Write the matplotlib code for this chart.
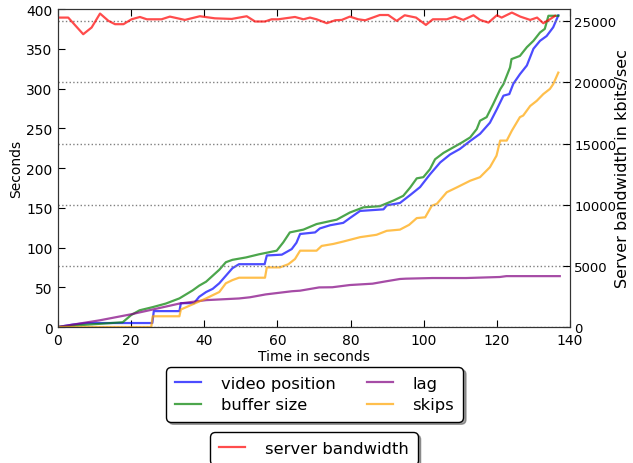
import matplotlib
matplotlib.use("Agg")
import matplotlib.pyplot as plt

# playback metrics (seconds) sampled over the session
video_t = [0, 4, 8, 25.8, 26.2, 33.2, 33.6, 37.2, 38.6, 40.5, 42.3, 44.1, 46, 47.7, 49.5,
           56.5, 57.1, 61.2, 63.9, 65.2, 66.2, 70.3, 71.6, 74.4, 78, 79.8, 82.6, 89, 89.9,
           93.5, 96.3, 99, 101.7, 104.5, 107.2, 109.9, 112.7, 115.4, 118.1, 120, 121.8,
           123.4, 124.5, 126.3, 128.2, 130, 131.8, 133.6, 135.4, 136.8]
video_pos = [0, 3, 5, 5, 20, 20, 30, 30, 38, 44, 48, 55, 65, 74, 79,
             79, 90, 91, 98, 106, 117, 119, 124, 128, 131, 137, 146, 148, 153,
             156, 166, 176, 192, 207, 217, 224, 234, 243, 257, 274, 291,
             293, 306, 318, 329, 350, 360, 366, 377, 392]

buffer_t = [0, 5, 11.4, 17.7, 20, 22.3, 25.9, 29.5, 33.2, 35, 36.8, 38.6, 40.5, 42.3, 44.1,
            45.9, 47.7, 51.4, 55, 59.8, 61.6, 63.4, 67.1, 70.7, 76.2, 79.8, 83.5, 88, 91.7,
            94.4, 96.3, 98.1, 99.9, 101.7, 103.1, 105.4, 108.1, 110.4, 112.7, 114.5, 115.4,
            117.2, 119, 120.9, 121.8, 123.6, 124, 126.3, 128.2, 130, 131.8, 133.1, 134.1, 136.8]
buffer_size = [0, 2, 4, 6, 15, 21, 25, 29.5, 36, 41, 46, 52, 57, 64.5, 72,
               81.5, 84.5, 87.5, 91.5, 96, 106.5, 119, 122.5, 129.5, 135, 144, 150.5, 152, 159,
               165, 175.5, 187, 188.5, 198.5, 211, 219, 226, 232, 238.5, 249, 259.5,
               264, 280.5, 299, 305.5, 326.5, 337, 341, 352, 360, 370.5, 375, 391.5, 391.5]

lag_t = [0, 11.4, 20, 25.9, 33.2, 40.5, 49.5, 52.5, 56.8, 64, 66.2, 71.4, 75, 79.8, 86,
         89.6, 93.5, 95.1, 102.4, 111.6, 120.8, 122.6, 137.2]
lag = [0, 8.4, 16, 22, 29.5, 33.8, 35.9, 37.4, 41, 45, 45.7, 49.8, 50, 52.8, 54.5,
       57.4, 60.4, 60.8, 61.6, 61.6, 62.9, 64, 64]

skips_t = [0, 25.5, 25.9, 33.2, 33.6, 37.3, 40.5, 44.1, 45.9, 47.7, 49.5, 56.6, 57.1, 60.7,
           63, 64.8, 66.2, 70.7, 72.1, 75.3, 78, 82.6, 87.1, 89.9, 93.5, 96, 98.1, 100.4,
           102.2, 103.6, 106.3, 109, 112.7, 115.4, 118.1, 119.9, 120.9, 122.7, 124.1, 126.3,
           127.2, 129.1, 130.9, 132.7, 134.5, 135.4, 136.8]
skips = [0, 0, 13.5, 13.5, 22, 29.5, 36, 44, 55, 59, 62, 62, 75, 75,
         79, 85.5, 96, 96, 102, 104.5, 107.5, 113, 116, 121, 122.5, 128.5, 137, 138,
         152.5, 155, 169.5, 175.5, 184, 188.5, 201, 215.5, 234.5, 234.5, 247, 264,
         266, 278, 284.5, 293, 299.5, 305.5, 320]

# server bandwidth (kbits/sec)
bw_t = [0, 2.8, 6.9, 9.2, 11.5, 13.8, 15.6, 17.9, 20.1, 22.4, 24.3, 28.3, 30.6, 34.7,
        38.8, 42.9, 47.5, 51.6, 53.9, 56.6, 58.4, 60.2, 64.8, 67.1, 68.9, 70.7, 73.5, 75.8,
        77.6, 79.8, 82.1, 84.0, 88.0, 90.3, 92.6, 94.8, 97.9, 100.6, 102.5, 106.3, 108.5,
        110.8, 113.6, 115.4, 117.7, 120.0, 121.3, 124.1, 126.4, 129.1, 131.0, 132.7, 134.5, 135.9]
bandwidth = [25300, 25300, 23940, 24490, 25630, 25030, 24760, 24760, 25160, 25350, 25160,
             25160, 25380, 25110, 25410, 25240, 25190, 25410, 24980, 24980, 25160, 25160,
             25350, 25160, 25300, 25160, 24840, 25080, 25110, 25380, 25160, 25080, 25510,
             25510, 25030, 25490, 25300, 24700, 25160, 25160, 25380, 25110, 25490, 25110,
             24890, 25490, 25300, 25710, 25380, 25110, 25300, 24840, 25160, 25440]

fig = plt.figure(figsize=(6.33, 4.64), dpi=100)
ax = fig.add_axes([0.0916, 0.2931, 0.8089, 0.6853])
ax2 = ax.twinx()

lw = 1.6
l1, = ax.plot(video_t, video_pos, color="b", alpha=0.7, lw=lw, label="video position")
l2, = ax.plot(buffer_t, buffer_size, color="g", alpha=0.7, lw=lw, label="buffer size")
l3, = ax.plot(lag_t, lag, color="purple", alpha=0.7, lw=lw, label="lag")
l4, = ax.plot(skips_t, skips, color="orange", alpha=0.7, lw=lw, label="skips")
l5, = ax2.plot(bw_t, bandwidth, color="r", alpha=0.7, lw=lw, label="server bandwidth")

ax.set_xlim(0, 140)
ax.set_ylim(0, 400)
ax2.set_ylim(0, 26000)
ax.set_xticks(range(0, 141, 20))
ax.set_yticks(range(0, 401, 50))
ax2.set_yticks(range(0, 25001, 5000))
ax2.yaxis.grid(True, linestyle=":", color="gray", lw=1)

ax.tick_params(direction="in", top=True, labelsize=10, length=5, pad=4)
ax2.tick_params(direction="in", labelsize=9.5, length=5, pad=3)
for a in (ax, ax2):
    for s in a.spines.values():
        s.set_color("#333333")

ax.set_xlabel("Time in seconds", fontsize=10, labelpad=2)
ax.set_ylabel("Seconds", fontsize=10, labelpad=2)
ax2.set_ylabel("Server bandwidth in kbits/sec", fontsize=11.5)
# right label is anchored at its top edge, so this is where its left side sits
ax2.yaxis.set_label_coords(1.088, 0.5)

leg1 = fig.legend(handles=[l1, l2, l3, l4], loc="upper center",
                  bbox_to_anchor=(314.5 / 633, 1 - 363 / 464), ncol=2,
                  fontsize=11.8, shadow=True, fancybox=True, framealpha=1,
                  edgecolor="black", handlelength=1.6, handletextpad=1.2,
                  columnspacing=1.9, labelspacing=0.4, borderpad=0.35)
leg2 = fig.legend(handles=[l5], loc="upper center",
                  bbox_to_anchor=(314 / 633, 1 - 428 / 464),
                  fontsize=11.8, shadow=True, fancybox=True, framealpha=1,
                  edgecolor="black", handlelength=1.6, handletextpad=1.2,
                  borderpad=0.35)
for lg in (leg1, leg2):
    lg.get_frame().set_boxstyle("round", pad=0.2, rounding_size=0.3)

fig.savefig("out.png", dpi=100)
